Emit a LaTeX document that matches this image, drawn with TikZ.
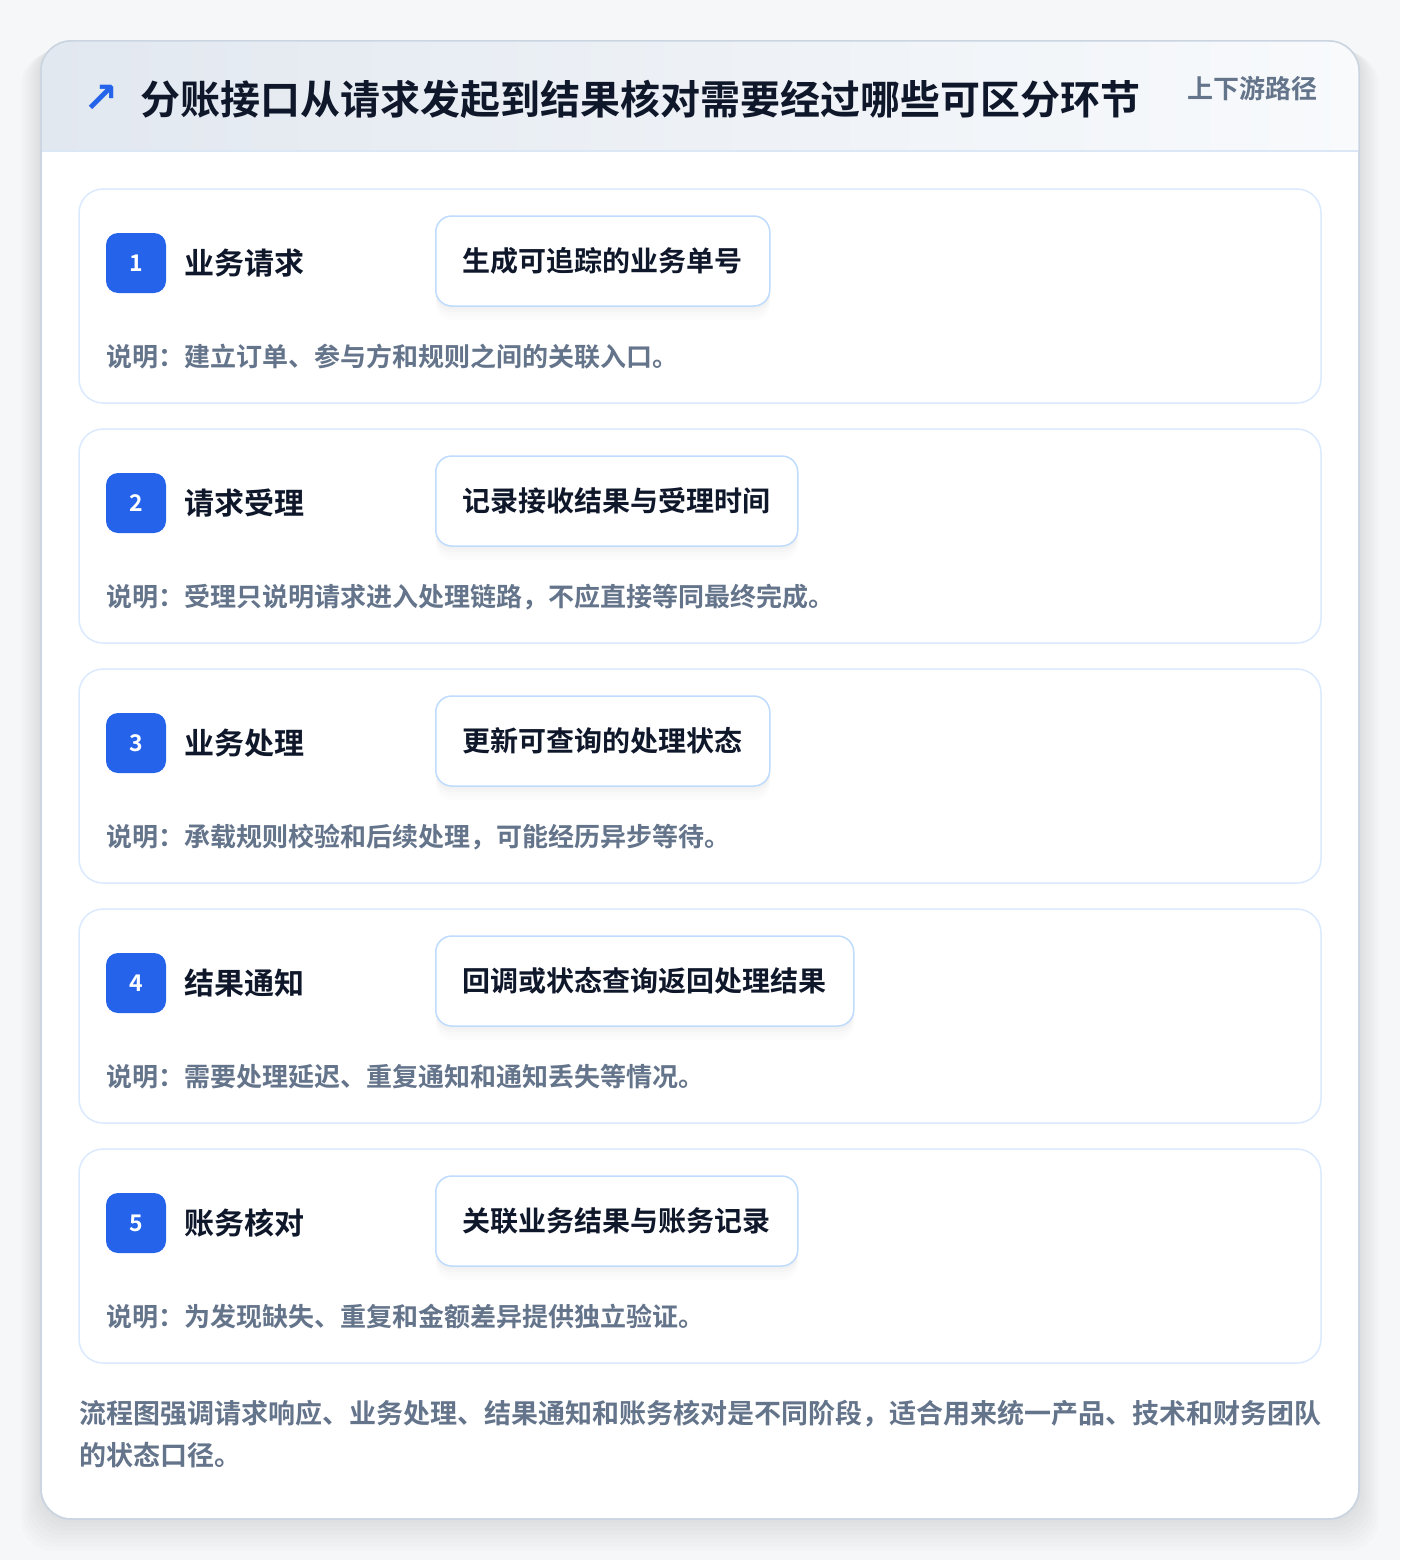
\documentclass[tikz,border=0pt]{standalone}
\usepackage{fontspec}
\setmainfont{Noto Sans CJK SC}[BoldFont={Noto Sans CJK SC Bold}]
\newfontfamily\symfont{DejaVu Sans}
\usetikzlibrary{positioning}

\definecolor{pagebg}{HTML}{F6F7F9}
\definecolor{cardline}{HTML}{CBD5E1}
\definecolor{headleft}{HTML}{E2E8F0}
\definecolor{headright}{HTML}{F8FAFC}
\definecolor{headline}{HTML}{DBE7F5}
\definecolor{stepline}{HTML}{DBEAFE}
\definecolor{pillline}{HTML}{BFDBFE}
\definecolor{accent}{HTML}{2563EB}
\definecolor{ink}{HTML}{0F172A}
\definecolor{muted}{HTML}{64748B}

\begin{document}
\begin{tikzpicture}[
            x = 1pt, y = -1pt, % pixel grid, y going down
            font = \bfseries,
            every node/.style = {inner sep = 0pt}
        ]

        \tikzstyle{stepcard}=[
            draw = stepline,
            line width = 1.5pt,
            fill = white,
            rounded corners = 24pt,
            minimum width = 1242pt,
            minimum height = 214pt
        ]
        \tikzstyle{badge}=[
            fill = accent,
            rounded corners = 12pt,
            minimum size = 60pt,
            text = white,
            font = \bfseries\fontsize{23}{26}\selectfont
        ]
        \tikzstyle{steptitle}=[
            text = ink,
            font = \bfseries\fontsize{30}{36}\selectfont
        ]
        \tikzstyle{pill}=[
            draw = pillline,
            line width = 1.5pt,
            fill = white,
            rounded corners = 16pt,
            minimum height = 90pt,
            inner xsep = 27pt,
            text = ink,
            font = \bfseries\fontsize{28}{34}\selectfont,
            preaction = {fill = black, opacity = 0.010, transform canvas = {yshift = -14pt}},
            preaction = {fill = black, opacity = 0.012, transform canvas = {yshift = -10pt}},
            preaction = {fill = black, opacity = 0.014, transform canvas = {yshift = -6pt}},
            preaction = {fill = black, opacity = 0.016, transform canvas = {yshift = -3pt}}
        ]
        \tikzstyle{stepnote}=[
            text = muted,
            font = \bfseries\fontsize{26}{30}\selectfont
        ]

        \useasboundingbox (0,0) rectangle (1400,1560);
        \fill[pagebg] (0,0) rectangle (1400,1560);

        % soft shadow of the main card
        \foreach \s in {1,...,8}
            \fill[black, opacity = 0.012, rounded corners = 32pt]
                (41-\s*2.5, 41+\s*1.5) rectangle (1359+\s*2.5, 1519+\s*4);

        \node[draw = cardline, line width = 1.5pt, fill = white, rounded corners = 30pt,
              minimum width = 1318pt, minimum height = 1478pt] (panel) at (700,780) {};

        % header band
        \begin{scope}
            \clip[rounded corners = 30pt] (41,41) rectangle (1359,1519);
            \shade[left color = headleft, right color = headright] (41,41) rectangle (1359,151);
        \end{scope}
        \draw[headline, line width = 1.5pt] (41,151) -- (1359,151);
        \draw[cardline, line width = 1.5pt, rounded corners = 30pt] (41,41) rectangle (1359,1519);

        \node[text = accent, font = \symfont\bfseries\fontsize{42}{46}\selectfont] (icon) at (101,99) {↗};
        \node[anchor = west, text = ink, font = \bfseries\fontsize{40}{48}\selectfont] (title) at (140,99)
            {分账接口从请求发起到结果核对需要经过哪些可区分环节};
        \node[anchor = east, text = muted, font = \bfseries\fontsize{26}{30}\selectfont] (tag) at (1318,89)
            {上下游路径};

        % the five steps
        \foreach \i/\name/\result/\note in {
            1/{业务请求}/{生成可追踪的业务单号}/{建立订单、参与方和规则之间的关联入口。},
            2/{请求受理}/{记录接收结果与受理时间}/{受理只说明请求进入处理链路，不应直接等同最终完成。},
            3/{业务处理}/{更新可查询的处理状态}/{承载规则校验和后续处理，可能经历异步等待。},
            4/{结果通知}/{回调或状态查询返回处理结果}/{需要处理延迟、重复通知和通知丢失等情况。},
            5/{账务核对}/{关联业务结果与账务记录}/{为发现缺失、重复和金额差异提供独立验证。}}
        {
            \pgfmathsetmacro\cy{296+240*(\i-1)}
            \node[stepcard] (card\i) at (700,\cy) {};
            \node[badge] (badge\i) at (136,\cy-33) {\i};
            \node[steptitle, anchor = west, right = 18pt of badge\i] (name\i) {\name};
            \node[pill, anchor = west] (result\i) at (435,\cy-35) {\result};
            \node[stepnote, anchor = west] (note\i) at (106,\cy+61) {说明：\note};
        }

        \node[anchor = north west, align = left, text = muted,
              font = \bfseries\fontsize{27}{42}\selectfont] (summary) at (79,1400)
            {流程图强调请求响应、业务处理、结果通知和账务核对是不同阶段，适合用来统一产品、技术和财务团队\\的状态口径。};

    \end{tikzpicture}
\end{document}
